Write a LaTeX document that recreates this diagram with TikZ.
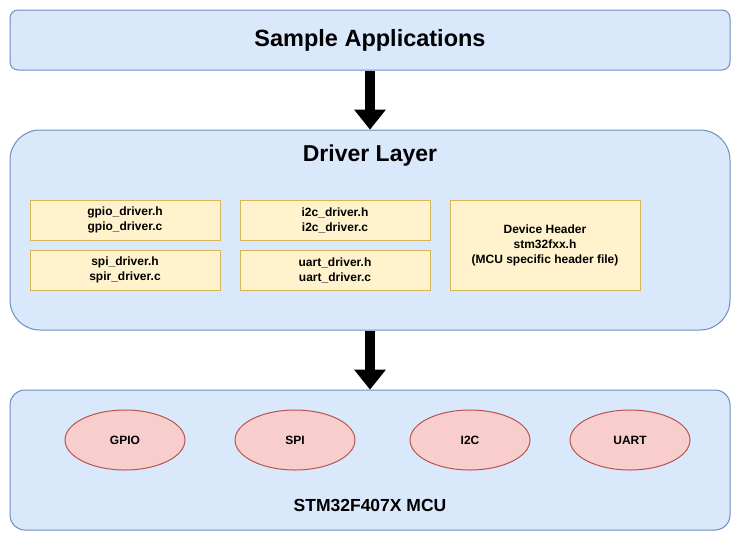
\documentclass[tikz,border=0pt]{standalone}
\usepackage{fontspec}
\setmainfont{Liberation Sans}
\usetikzlibrary{arrows.meta,shapes.geometric}
\definecolor{bluefill}{HTML}{DAE8FC}
\definecolor{bluedraw}{HTML}{6C8EBF}
\definecolor{yelfill}{HTML}{FFF2CC}
\definecolor{yeldraw}{HTML}{D6B656}
\definecolor{redfill}{HTML}{F8CECC}
\definecolor{reddraw}{HTML}{B85450}

\begin{document}
\begin{tikzpicture}[x=1pt,y=-1pt,
layer/.style={draw=bluedraw, fill=bluefill, line width=1pt, inner sep=0pt, minimum width=720pt},
file/.style={draw=yeldraw, fill=yelfill, line width=1pt, inner sep=0pt, minimum width=190pt, minimum height=40pt, align=center, font=\fontsize{12}{15}\selectfont\bfseries},
periph/.style={ellipse, draw=reddraw, fill=redfill, line width=1pt, inner sep=0pt, minimum width=120pt, minimum height=60pt, font=\fontsize{12}{15}\selectfont\bfseries},
fat/.style={line width=10pt, -{Triangle[width=32pt,length=20pt,line width=0pt]}}
]
\useasboundingbox (0,0) rectangle (750,550);

\node[layer, rounded corners=8pt, minimum height=60pt, font=\fontsize{23.5}{28}\selectfont\bfseries] (app) at (370,40) {Sample Applications};

\node[layer, rounded corners=30pt, minimum height=200pt] (drv) at (370,230) {};
\node[font=\fontsize{23}{28}\selectfont\bfseries] (drvtitle) at (370,156) {Driver Layer};

\begin{scope}
\node[file] (gpio) at (125,220) {gpio\_driver.h\\gpio\_driver.c};
\node[file] (i2c) at (335,220) {i2c\_driver.h\\i2c\_driver.c};
\node[file] (spi) at (125,270) {spi\_driver.h\\spir\_driver.c};
\node[file] (uart) at (335,270) {uart\_driver.h\\uart\_driver.c};
\node[file, minimum height=90pt] (devhdr) at (545,245) {Device Header\\stm32fxx.h\\(MCU specific header file)};
\end{scope}

\node[layer, rounded corners=15pt, minimum height=140pt] (mcu) at (370,460) {};
\node[font=\fontsize{17.5}{21}\selectfont\bfseries] (mcuname) at (370,505) {STM32F407X MCU};

\node[periph] (pgpio) at (125,440) {GPIO};
\node[periph] (pspi) at (295,440) {SPI};
\node[periph] (pi2c) at (470,440) {I2C};
\node[periph] (puart) at (630,440) {UART};

\draw[fat] (app.south) -- (drv.north);
\draw[fat] (drv.south) -- (mcu.north);

\end{tikzpicture}
\end{document}
